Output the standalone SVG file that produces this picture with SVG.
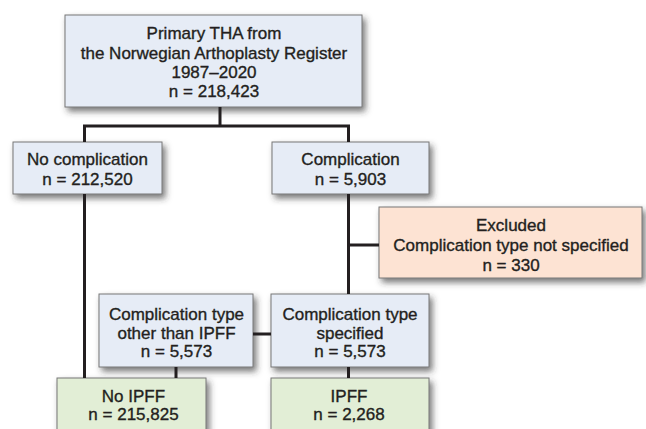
<svg xmlns="http://www.w3.org/2000/svg" width="646" height="429" viewBox="0 0 646 429">
<defs>
<style>
.box{stroke:#777;stroke-width:1;filter:url(#sh)}
.blue{fill:#e6ecf6}
.orange{fill:#fde3d3}
.green{fill:#e2eed6}
.c{fill:none;stroke:#231f20;stroke-width:3;stroke-linejoin:miter}
text{font-family:"Liberation Sans",Arial,sans-serif;font-size:17px;fill:#231f20;stroke:#231f20;stroke-width:0.35;text-anchor:middle}
</style>
<filter id="sh" x="-10%" y="-20%" width="130%" height="150%">
<feDropShadow dx="3" dy="4" stdDeviation="3" flood-color="#333" flood-opacity="0.65"/>
</filter>
</defs>
<rect width="646" height="429" fill="#fff"/>
<g id="top">
<rect class="box blue" x="65" y="15" width="297" height="92"/>
<text x="214" y="39">Primary THA from</text>
<text x="214" y="58.5">the Norwegian Arthoplasty Register</text>
<text x="214" y="77.5">1987–2020</text>
<text x="214" y="97">n = 218,423</text>
</g>
<g id="nocomp">
<rect class="box blue" x="13" y="142" width="149" height="52"/>
<text x="87.5" y="164.5">No complication</text>
<text x="87.5" y="184.5">n = 212,520</text>
</g>
<g id="comp">
<rect class="box blue" x="272" y="142" width="157" height="52"/>
<text x="350.5" y="164.5">Complication</text>
<text x="350.5" y="184.5">n = 5,903</text>
</g>
<g id="excluded">
<rect class="box orange" x="379" y="207" width="263" height="71"/>
<text x="511" y="231">Excluded</text>
<text x="511" y="251">Complication type not specified</text>
<text x="511" y="270.5">n = 330</text>
</g>
<g id="other">
<rect class="box blue" x="99" y="294" width="154" height="73"/>
<text x="176.5" y="319.5">Complication type</text>
<text x="176.5" y="338.5">other than IPFF</text>
<text x="176.5" y="357">n = 5,573</text>
</g>
<g id="specified">
<rect class="box blue" x="271" y="294" width="158" height="73"/>
<text x="350" y="319.5">Complication type</text>
<text x="350" y="338.5">specified</text>
<text x="350" y="357">n = 5,573</text>
</g>
<g id="noipff">
<rect class="box green" x="57" y="378" width="149" height="62"/>
<text x="133.5" y="401.5">No IPFF</text>
<text x="133.5" y="420">n = 215,825</text>
</g>
<g id="ipff">
<rect class="box green" x="271" y="378" width="158" height="62"/>
<text x="349" y="401.5">IPFF</text>
<text x="349" y="420">n = 2,268</text>
</g>
<g id="connectors">
<path class="c" d="M220,107 V126"/>
<path class="c" d="M84.5,142 V126 H348.5 V142"/>
<path class="c" d="M84.5,194 V378"/>
<path class="c" d="M348.5,194 V294"/>
<path class="c" d="M348.5,245 H379"/>
<path class="c" d="M253,334 H271"/>
<path class="c" d="M176,367 V378"/>
<path class="c" d="M348.5,367 V378"/>
</g>
</svg>
